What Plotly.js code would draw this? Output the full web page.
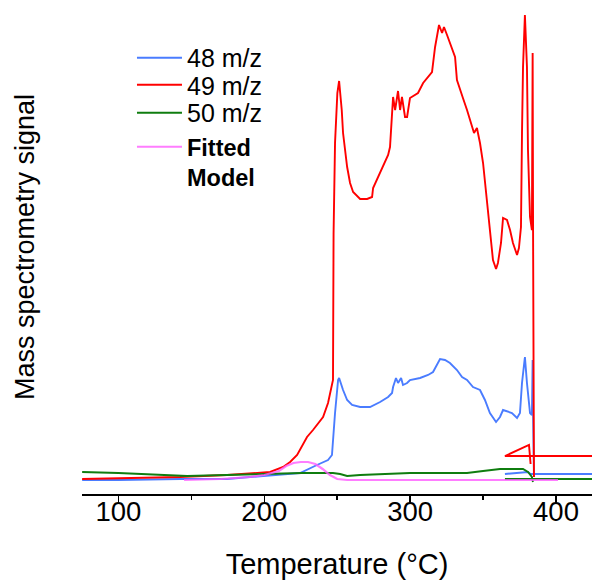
<!DOCTYPE html>
<html>
<head>
<meta charset="utf-8">
<script src="https://cdn.plot.ly/plotly-3.0.1.min.js"></script>
<style>
  html, body { margin: 0; padding: 0; background: #fff; }
  #chart { width: 592px; height: 580px; }
</style>
</head>
<body>
<div id="chart"></div>
<script>
// Temperature (°C) and mass-spectrometry signal (arbitrary units); null breaks a line into segments
var temp48 = [75.1,100,142.3,174.5,190.3,224.5,236.1,243.7,246.4,247.1,248.5,250.6,251.3,254.0,256.8,260.2,265.7,272.5,279.4,284.9,287.6,288.3,290.3,291.7,293.8,295.1,297.9,299.9,306.8,312.3,315.7,320.5,323.9,327.3,332.1,335.6,339.0,343.1,347.9,351.3,354.7,358.9,361.6,363.7,366.4,369.8,373.3,375.3,376.7,378.7,380.1,382.2,383.5,384.0,384.3,384.9,null,365.0,380.8,382.5,424.7];
var sig48 = [14,14,15,15,17,21,29,34,39,54,81,114,116,104,94,89,87,87,92,97,101,107,116,111,116,109,111,114,116,119,122,135,134,131,124,117,114,107,104,94,81,72,77,84,83,81,76,81,111,137,111,81,79,134,79,17,null,20,22,20,20];

var temp49 = [75.1,142.3,174.5,190.3,204.0,212.9,217.7,222.5,226.6,229.3,
  233.4,240.3,243.7,246.4,247.1,247.5,248.5,250.1,251.3,253.1,
  254.0,256.8,258.8,260.9,265.7,270.5,273.9,274.6,278.0,281.4,
  284.9,286.2,287.6,288.3,289.7,291.7,293.1,294.4,296.5,297.9,
  299.9,303.4,305.4,308.9,312.3,315.0,317.1,319.8,321.9,323.2,
  325.3,327.3,330.8,332.1,334.2,336.2,339.0,340.4,342.4,343.8,
  345.8,347.9,350.0,352.7,354.7,356.8,358.9,360.2,362.3,363.7,
  366.4,368.5,370.5,373.3,374.6,376.0,376.7,377.4,378.7,380.1,
  380.8,382.2,383.5,384.0,384.3,384.9,384.9,null,424.7,365.0,381.5,382.6];
var sig49 = [15,17,19,21,22,27,32,39,49,57,
  64,77,91,107,114,260,351,401,413,384,
  361,327,311,302,295,295,297,306,317,329,
  339,347,377,397,384,403,384,397,377,377,
  396,399,401,411,417,422,447,469,461,467,
  459,451,437,414,404,396,384,377,367,361,
  366,351,331,294,261,234,225,231,251,276,
  274,264,251,239,246,267,361,427,479,427,
  344,277,264,441,261,44,17,null,38,38,49,30];

var temp50 = [75.1,100,147.1,174.5,190.3,226,247.1,252,256.8,265.7,300,334.2,339.0,350.0,361.6,377.4,380.8,383.5,384.2,null,365.0,424.7];
var sig50 = [22,21,18,19,20,21,21,20,18,19,21,21,21,23,25,25,22,17,12,null,15,15];

var tempFit = [145,170,190,200,210,215,220,225,230,235,240,245,250,256.8,300,350,401.4];
var sigFit = [14,15,17,19,23,28,31,32,32,30,25,19,15,14,14,14,14];

var seriesNames = ['48 m/z', '49 m/z', '50 m/z', '<b>Fitted<br>Model</b>'];
var tickVals = [100, 200, 300, 400];
var minorVals = [150, 250, 350];

var traces = [
  {x: temp48, y: sig48, name: seriesNames[0], legend: 'legend', type: 'scatter', mode: 'lines',
   line: {color: '#4a7cff', width: 1.9}, connectgaps: false},
  {x: temp49, y: sig49, name: seriesNames[1], legend: 'legend2', type: 'scatter', mode: 'lines',
   line: {color: '#ff0000', width: 1.9}, connectgaps: false},
  {x: temp50, y: sig50, name: seriesNames[2], legend: 'legend3', type: 'scatter', mode: 'lines',
   line: {color: '#0f7d0f', width: 1.9}, connectgaps: false},
  {x: tempFit, y: sigFit, name: seriesNames[3], legend: 'legend4', type: 'scatter', mode: 'lines',
   line: {color: '#ff5cff', width: 2.2}, opacity: 0.8}
];

function legendBox(yPaper, size, valign) {
  return {x: 0.098, y: yPaper, xanchor: 'left', yanchor: 'middle',
          font: {size: size}, bgcolor: 'rgba(0,0,0,0)', itemwidth: 45,
          valign: valign || 'middle'};
}

var layout = {
  width: 592, height: 580,
  margin: {l: 82, r: 0, t: 0, b: 86},
  paper_bgcolor: '#ffffff', plot_bgcolor: '#ffffff',
  font: {family: 'Liberation Sans, Arial, sans-serif', color: '#000000'},
  showlegend: true,
  legend: legendBox(0.8826, 25),
  legend2: legendBox(0.8279, 25),
  legend3: legendBox(0.7713, 25),
  legend4: legendBox(0.6711, 23.5, 'top'),
  xaxis: {
    range: [75, 424.7], automargin: false,
    showline: true, linecolor: '#000', linewidth: 1.5,
    ticks: 'outside', ticklen: 8, tickwidth: 1.5, tickcolor: '#000',
    tickvals: tickVals, tickfont: {size: 27.5}, ticklabelstandoff: -16,
    minor: {tickvals: minorVals, ticks: 'outside', ticklen: 4, tickwidth: 1.5, tickcolor: '#000', showgrid: false},
    showgrid: false, zeroline: false,
    title: {text: 'Temperature (°C)', font: {size: 29}, standoff: 32}
  },
  yaxis: {
    range: [0, 494], automargin: false,
    showline: false, showticklabels: false, ticks: '',
    showgrid: false, zeroline: false,
    title: {text: 'Mass spectrometry signal', font: {size: 27}, standoff: 38}
  }
};

Plotly.newPlot('chart', traces, layout, {staticPlot: true, displayModeBar: false});
</script>
</body>
</html>
